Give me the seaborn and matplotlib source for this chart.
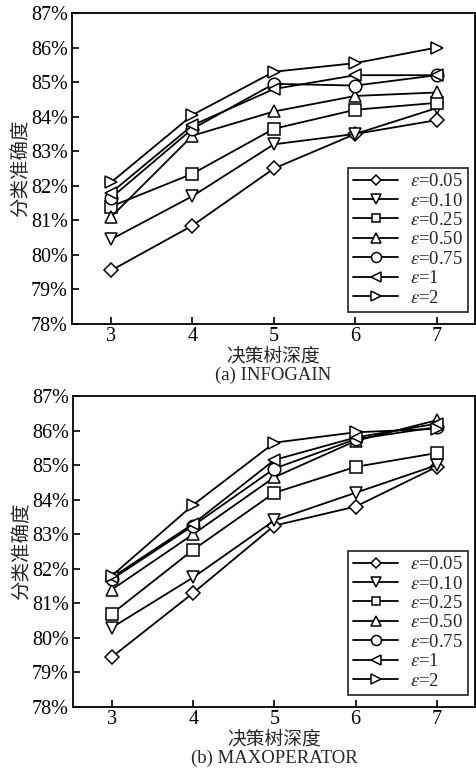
import numpy as np
import pandas as pd
import matplotlib
matplotlib.use("Agg")
import matplotlib.pyplot as plt
import seaborn as sns
from matplotlib.ticker import FuncFormatter

sns.set_theme(style="ticks")
plt.rcParams['font.family'] = ['Liberation Serif', 'Noto Sans CJK SC', 'DejaVu Sans']
plt.rcParams['mathtext.fontset'] = 'stix'

depths = [3, 4, 5, 6, 7]
eps_labels = ["0.05", "0.10", "0.25", "0.50", "0.75", "1", "2"]

infogain = {
    "0.05": [79.55, 80.85, 82.50, 83.50, 83.90],
    "0.10": [80.45, 81.70, 83.20, 83.50, 84.25],
    "0.25": [81.40, 82.35, 83.65, 84.20, 84.40],
    "0.50": [81.10, 83.45, 84.15, 84.60, 84.70],
    "0.75": [81.65, 83.65, 84.95, 84.90, 85.20],
    "1":    [81.80, 83.75, 84.80, 85.20, 85.20],
    "2":    [82.10, 84.05, 85.30, 85.55, 86.00],
}
maxoperator = {
    "0.05": [79.45, 81.30, 83.25, 83.80, 84.95],
    "0.10": [80.30, 81.75, 83.40, 84.20, 85.00],
    "0.25": [80.70, 82.55, 84.20, 84.95, 85.35],
    "0.50": [81.40, 83.00, 84.65, 85.70, 86.30],
    "0.75": [81.70, 83.25, 84.90, 85.75, 86.10],
    "1":    [81.75, 83.30, 85.15, 85.80, 86.20],
    "2":    [81.80, 83.85, 85.65, 85.95, 86.05],
}

marker_map = {"0.05": "D", "0.10": "v", "0.25": "s", "0.50": "^",
              "0.75": "o", "1": "<", "2": ">"}
marker_sizes = {"0.05": 7, "0.10": 9, "0.25": 8, "0.50": 9,
                "0.75": 9, "1": 9, "2": 9}


def make_df(d):
    rows = []
    for e in eps_labels:
        for x, v in zip(depths, d[e]):
            rows.append({"depth": x, "acc": v, "eps": e})
    return pd.DataFrame(rows)


fig = plt.figure(figsize=(4.76, 7.79), dpi=100)
ax1 = fig.add_axes([72/476, 1-324/779, 403/476, 311/779])
ax2 = fig.add_axes([73/476, 1-707/779, 402/476, 311/779])

for ax, data, sub in [(ax1, infogain, "(a) INFOGAIN"), (ax2, maxoperator, "(b) MAXOPERATOR")]:
    df = make_df(data)
    for e in eps_labels:
        sub_df = df[df["eps"] == e]
        sns.lineplot(data=sub_df, x="depth", y="acc", ax=ax, color="black",
                     marker=marker_map[e], markersize=marker_sizes[e],
                     markerfacecolor="white", markeredgecolor="black",
                     markeredgewidth=1.1, linewidth=1.3,
                     label=r"$\varepsilon$=" + e, legend=False)
    ax.set_xlim(2.52, 7.47)
    ax.set_ylim(78, 87)
    ax.set_xticks(depths)
    ax.set_yticks(np.arange(78, 88, 1))
    ax.yaxis.set_major_formatter(FuncFormatter(lambda v, p: f"{int(round(v))}%"))
    ax.tick_params(direction="in", length=5, width=1.2, labelsize=14.5, colors="black")
    ax.tick_params(axis="x", pad=2)
    ax.tick_params(axis="y", pad=3)
    for s in ax.spines.values():
        s.set_linewidth(1.3)
        s.set_color("black")
    ax.set_xlabel("")
    ax.set_ylabel("分类准确度", fontsize=14, family=['Noto Sans CJK SC'], labelpad=0)
    ax.text(0.5, -0.104, "决策树深度", transform=ax.transAxes, ha="center", va="center",
            fontsize=13.5, family=['Noto Sans CJK SC'])
    ax.text(0.5, -0.166, sub, transform=ax.transAxes, ha="center", va="center",
            fontsize=13.5)
    handles, labels = ax.get_legend_handles_labels()
    leg = ax.legend(handles, labels, loc="lower right", bbox_to_anchor=(0.983, 0.038),
                    fontsize=13.5, frameon=True, fancybox=False, edgecolor="black",
                    markerscale=0.8, handlelength=2.4, handletextpad=0.6,
                    labelspacing=0.12, borderpad=0.3, borderaxespad=0.0)
    leg.get_frame().set_linewidth(1.3)

fig.savefig("out.png", dpi=100)
